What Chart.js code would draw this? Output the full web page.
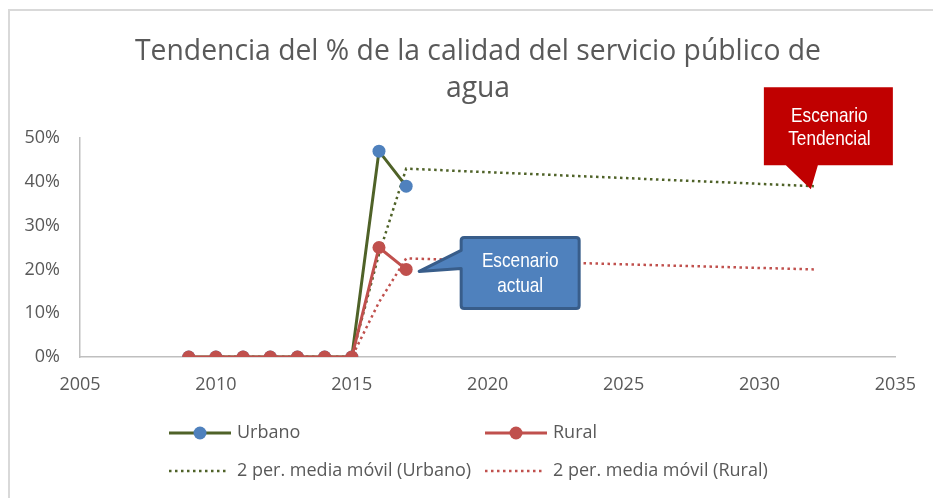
<!DOCTYPE html>
<html lang="es">
<head>
<meta charset="utf-8">
<title>Tendencia del % de la calidad del servicio público de agua</title>
<script src="https://cdn.jsdelivr.net/npm/chart.js@4.4.1/dist/chart.umd.min.js"></script>
<style>
  html, body { margin: 0; padding: 0; background: #ffffff; }
  #wrap { width: 933px; height: 498px; }
</style>
</head>
<body>
<div id="wrap"><canvas id="chart" width="933" height="498"></canvas></div>
<script>
// Observed years and percentages
const years = [2009, 2010, 2011, 2012, 2013, 2014, 2015, 2016, 2017];
const urbano = [0, 0, 0, 0, 0, 0, 0, 47, 39];
const rural = [0, 0, 0, 0, 0, 0, 0, 25, 20];

// Two-period moving averages, carried out to the 2032 scenario year
const maYears = [2010, 2011, 2012, 2013, 2014, 2015, 2016, 2017, 2032];
const maUrbano = [0, 0, 0, 0, 0, 0, 23.5, 43, 39];
const maRural = [0, 0, 0, 0, 0, 0, 12.5, 22.5, 20];

// Axis ranges and tick steps
const xRange = [2005, 2035];
const xStep = 5;
const yRange = [0, 50];
const yStep = 10;

const titleLines = ['Tendencia del % de la calidad del servicio público de', 'agua'];
const legendNames = ['Urbano', 'Rural', '2 per. media móvil (Urbano)', '2 per. media móvil (Rural)'];
const calloutTrend = ['Escenario', 'Tendencial'];
const calloutActual = ['Escenario', 'actual'];

const GREEN = '#4f6228';
const BLUE = '#4f81bd';
const RED = '#c0504d';
const TEXT = '#595959';
const BASE_FONT = '"Open Sans", "Noto Sans", sans-serif';
const CALLOUT_FONT = '21px "Liberation Sans", Arial, sans-serif';
const DOTS = [2.5, 3.5];

const pts = (xs, ys) => xs.map((x, i) => ({ x, y: ys[i] }));

// Condensed white text for the callouts (horizontally squeezed sans)
function narrowText(ctx, text, cx, cy) {
  ctx.save();
  ctx.translate(cx, cy);
  ctx.scale(0.82, 1);
  ctx.fillStyle = '#ffffff';
  ctx.font = CALLOUT_FONT;
  ctx.textAlign = 'center';
  ctx.textBaseline = 'middle';
  ctx.fillText(text, 0, 0);
  ctx.restore();
}

// Frame, title and legend drawn around the plot
const decorations = {
  id: 'decorations',
  beforeDraw(chart) {
    const ctx = chart.ctx;
    ctx.save();
    ctx.fillStyle = '#ffffff';
    ctx.fillRect(0, 0, chart.width, chart.height);
    ctx.strokeStyle = '#d9d9d9';
    ctx.lineWidth = 2;
    ctx.beginPath();
    ctx.moveTo(9, chart.height);
    ctx.lineTo(9, 10);
    ctx.lineTo(chart.width, 10);
    ctx.stroke();

    ctx.fillStyle = TEXT;
    ctx.font = '28.3px ' + BASE_FONT;
    ctx.textAlign = 'center';
    ctx.textBaseline = 'alphabetic';
    ctx.fillText(titleLines[0], 478, 60);
    ctx.fillText(titleLines[1], 478, 97);
    ctx.restore();
  },
  afterDraw(chart) {
    const ctx = chart.ctx;
    ctx.save();
    const rows = [433, 471];
    const cols = [169, 485];
    const entries = [
      { line: GREEN, marker: BLUE, dash: null },
      { line: RED, marker: RED, dash: null },
      { line: GREEN, marker: null, dash: DOTS },
      { line: RED, marker: null, dash: DOTS }
    ];
    entries.forEach((e, i) => {
      const x0 = cols[i % 2];
      const y = rows[Math.floor(i / 2)];
      const len = e.dash ? 58 : 62;
      ctx.strokeStyle = e.line;
      ctx.lineWidth = e.dash ? 2.5 : 3;
      ctx.setLineDash(e.dash || []);
      ctx.beginPath();
      ctx.moveTo(x0, y);
      ctx.lineTo(x0 + len, y);
      ctx.stroke();
      ctx.setLineDash([]);
      if (e.marker) {
        ctx.fillStyle = e.marker;
        ctx.beginPath();
        ctx.arc(x0 + len / 2, y, 6.5, 0, Math.PI * 2);
        ctx.fill();
      }
      ctx.fillStyle = TEXT;
      ctx.font = '18px ' + BASE_FONT;
      ctx.textAlign = 'left';
      ctx.textBaseline = 'middle';
      ctx.fillText(legendNames[i], x0 + 68, y);
    });
    ctx.restore();
  }
};

// Speech-bubble callouts pointing at the scenario values
const callouts = {
  id: 'callouts',
  afterDatasetsDraw(chart) {
    const ctx = chart.ctx;
    const xs = chart.scales.x;
    const ys = chart.scales.y;
    ctx.save();

    // Trend scenario: tip on the end of the urban moving average
    const n = maYears.length - 1;
    const t1 = { x: xs.getPixelForValue(maYears[n]) - 3, y: ys.getPixelForValue(maUrbano[n]) + 3 };
    const b1 = { l: t1.x - 47, r: t1.x + 82, t: t1.y - 102, b: t1.y - 24 };
    ctx.fillStyle = '#c00000';
    ctx.beginPath();
    ctx.moveTo(b1.l, b1.t);
    ctx.lineTo(b1.r, b1.t);
    ctx.lineTo(b1.r, b1.b);
    ctx.lineTo(t1.x + 7, b1.b);
    ctx.lineTo(t1.x, t1.y);
    ctx.lineTo(t1.x - 25, b1.b);
    ctx.lineTo(b1.l, b1.b);
    ctx.closePath();
    ctx.fill();
    const c1 = (b1.l + b1.r) / 2 + 1;
    narrowText(ctx, calloutTrend[0], c1, b1.t + 29);
    narrowText(ctx, calloutTrend[1], c1, b1.t + 52);

    // Current scenario: tip beside the last rural observation
    const k = years.length - 1;
    const t2 = { x: xs.getPixelForValue(years[k]) + 13, y: ys.getPixelForValue(rural[k]) + 2 };
    const b2 = { l: t2.x + 42, r: t2.x + 160, t: t2.y - 34, b: t2.y + 37 };
    const r = 3;
    ctx.beginPath();
    ctx.moveTo(b2.l + r, b2.t);
    ctx.lineTo(b2.r - r, b2.t);
    ctx.quadraticCurveTo(b2.r, b2.t, b2.r, b2.t + r);
    ctx.lineTo(b2.r, b2.b - r);
    ctx.quadraticCurveTo(b2.r, b2.b, b2.r - r, b2.b);
    ctx.lineTo(b2.l + r, b2.b);
    ctx.quadraticCurveTo(b2.l, b2.b, b2.l, b2.b - r);
    ctx.lineTo(b2.l, t2.y - 3);
    ctx.lineTo(t2.x, t2.y);
    ctx.lineTo(b2.l, t2.y - 21);
    ctx.lineTo(b2.l, b2.t + r);
    ctx.quadraticCurveTo(b2.l, b2.t, b2.l + r, b2.t);
    ctx.closePath();
    ctx.fillStyle = BLUE;
    ctx.fill();
    ctx.strokeStyle = '#385d8a';
    ctx.lineWidth = 3;
    ctx.lineJoin = 'round';
    ctx.stroke();
    const c2 = (b2.l + b2.r) / 2;
    narrowText(ctx, calloutActual[0], c2, t2.y - 10);
    narrowText(ctx, calloutActual[1], c2, t2.y + 15);
    ctx.restore();
  }
};

new Chart(document.getElementById('chart'), {
  type: 'line',
  data: {
    datasets: [
      {
        label: legendNames[1],
        data: pts(years, rural),
        borderColor: RED,
        backgroundColor: RED,
        borderWidth: 3,
        pointRadius: 6.5,
        pointBorderWidth: 0,
        pointBackgroundColor: RED,
        order: 0
      },
      {
        label: legendNames[0],
        data: pts(years, urbano),
        borderColor: GREEN,
        backgroundColor: BLUE,
        borderWidth: 3,
        pointRadius: 6.5,
        pointBorderWidth: 0,
        pointBackgroundColor: BLUE,
        order: 1
      },
      {
        label: legendNames[2],
        data: pts(maYears, maUrbano),
        borderColor: GREEN,
        borderWidth: 2.5,
        borderDash: DOTS,
        pointRadius: 0,
        order: 2
      },
      {
        label: legendNames[3],
        data: pts(maYears, maRural),
        borderColor: RED,
        borderWidth: 2.5,
        borderDash: DOTS,
        pointRadius: 0,
        order: 3
      }
    ]
  },
  options: {
    responsive: false,
    animation: false,
    events: [],
    layout: { padding: { left: 0, top: 138, right: 35, bottom: 101 } },
    plugins: {
      legend: { display: false },
      tooltip: { enabled: false },
      title: { display: false }
    },
    scales: {
      x: {
        type: 'linear',
        min: xRange[0],
        max: xRange[1],
        grid: { display: false, drawTicks: false },
        border: { display: true, color: '#bfbfbf', width: 1.5 },
        ticks: {
          stepSize: xStep,
          padding: 17,
          color: TEXT,
          font: { family: BASE_FONT, size: 18 },
          callback: v => String(v),
          maxRotation: 0
        },
        afterFit: s => { s.height = 40; }
      },
      y: {
        min: yRange[0],
        max: yRange[1],
        grid: { display: false, drawTicks: false },
        border: { display: true, color: '#bfbfbf', width: 1.5 },
        ticks: {
          stepSize: yStep,
          padding: 20,
          color: TEXT,
          font: { family: BASE_FONT, size: 18 },
          callback: v => v + '%'
        },
        afterFit: s => { s.width = 80; }
      }
    }
  },
  plugins: [decorations, callouts]
});
</script>
</body>
</html>
